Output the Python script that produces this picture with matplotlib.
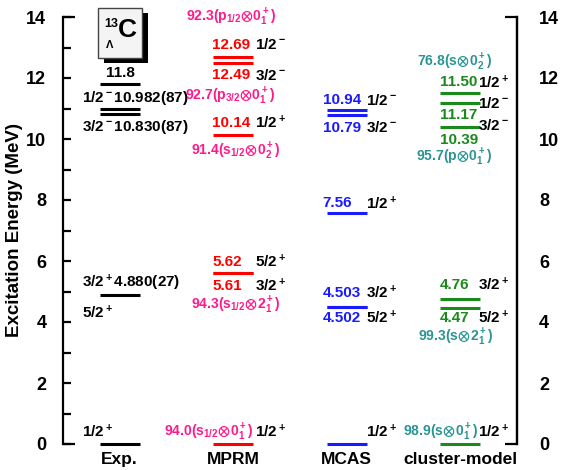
import matplotlib
matplotlib.use("Agg")
import matplotlib.pyplot as plt
from matplotlib.patches import Rectangle
from matplotlib.ticker import MultipleLocator
import matplotlib.transforms as mtransforms

plt.rcParams['font.family'] = ['Liberation Sans', 'DejaVu Sans']
plt.rcParams['font.weight'] = 'bold'
plt.rcParams['mathtext.fontset'] = 'custom'
plt.rcParams['mathtext.rm'] = 'Liberation Sans:bold'
plt.rcParams['mathtext.it'] = 'Liberation Sans:bold'
plt.rcParams['mathtext.bf'] = 'Liberation Sans:bold'
plt.rcParams['mathtext.sf'] = 'Liberation Sans:bold'
plt.rcParams['mathtext.default'] = 'bf'
plt.rcParams['mathtext.fallback'] = 'stixsans'

# ---------------- data ----------------
columns = ["Exp.", "MPRM", "MCAS", "cluster-model"]

exp_energy = [0.0, 4.880, 10.830, 10.982, 11.8]
exp_labels = [r"$1/2^+$", r"$3/2^+$4.880(27)", r"$3/2^-$10.830(87)", r"$1/2^-$10.982(87)", "11.8"]
exp_extra_spin = r"$5/2^+$"

mprm_energy = [0.0, 5.61, 5.62, 10.14, 12.49, 12.69]
mprm_values = ["", "5.61", "5.62", "10.14", "12.49", "12.69"]
mprm_spins = [r"$1/2^+$", r"$3/2^+$", r"$5/2^+$", r"$1/2^+$", r"$3/2^-$", r"$1/2^-$"]
mprm_comp = [r"$94.0(s_{1/2}\!\otimes\!0^+_1)$", r"$94.3(s_{1/2}\!\otimes\!2^+_1)$",
             r"$91.4(s_{1/2}\!\otimes\!0^+_2)$", r"$92.7(p_{3/2}\!\otimes\!0^+_1)$",
             r"$92.3(p_{1/2}\!\otimes\!0^+_1)$"]

mcas_energy = [0.0, 4.502, 4.503, 7.56, 10.79, 10.94]
mcas_values = ["", "4.502", "4.503", "7.56", "10.79", "10.94"]
mcas_spins = [r"$1/2^+$", r"$5/2^+$", r"$3/2^+$", r"$1/2^+$", r"$3/2^-$", r"$1/2^-$"]

cluster_energy = [0.0, 4.47, 4.76, 10.39, 11.17, 11.50]
cluster_values = ["", "4.47", "4.76", "10.39", "11.17", "11.50"]
cluster_spins = [r"$1/2^+$", r"$5/2^+$", r"$3/2^+$", r"$3/2^-$", r"$1/2^-$", r"$1/2^+$"]
cluster_comp = [r"$98.9(s\!\otimes\!0^+_1)$", r"$99.3(s\!\otimes\!2^+_1)$",
                r"$95.7(p\!\otimes\!0^+_1)$", r"$76.8(s\!\otimes\!0^+_2)$"]

# ---------------- style ----------------
C_EXP = 'black'
C_MPRM = '#ff0000'
C_MCAS = '#1a1aff'
C_CL = '#1a8a1a'
C_PINK = '#ff1a8c'
C_TEAL = '#2a9494'

FS_VAL = 11
FS_COMP = 10

fig = plt.figure(figsize=(5.61, 4.70), dpi=100)
W, H = 561, 470
ax = fig.add_axes([63 / W, 1 - 444 / H, (517 - 63) / W, (444 - 17) / H])
ax.set_xlim(-0.5, 3.5)
ax.set_ylim(0, 14)

half = 0.175
lw_lev = 2.2
for i, (en, col) in enumerate([(exp_energy, C_EXP), (mprm_energy, C_MPRM),
                                (mcas_energy, C_MCAS), (cluster_energy, C_CL)]):
    ax.hlines(en, i - half, i + half, colors=col, lw=lw_lev, clip_on=False)


def lab(x, e, s, dx, dy, color='black', ha='left', fs=FS_VAL):
    ax.annotate(s, xy=(x, e), xytext=(dx, dy), textcoords='offset pixels',
                ha=ha, va='center', color=color, fontsize=fs, fontweight='bold',
                annotation_clip=False)


# Exp column
x = 0
exp_layout = [(-38, 12, 'left'), (-38, 12, 'left'), (-38, -13, 'left'), (-38, 11, 'left'), (1, 11, 'center')]
for e, s, (dx, dy, ha) in zip(exp_energy, exp_labels, exp_layout):
    lab(x, e, s, dx, dy, ha=ha)
lab(x, exp_energy[1], exp_extra_spin, -38, -17)

# MPRM column
x = 1
mprm_dy = [12, -13, 11, 12, -12, 12]
for e, v, s, dy in zip(mprm_energy, mprm_values, mprm_spins, mprm_dy):
    if v:
        lab(x, e, v, -21, dy, color=C_MPRM)
    lab(x, e, s, 22, dy)
mprm_comp_layout = [(0, 20, 12, 'right'), (1, 2, -32, 'center'), (3, 2, -17, 'center'),
                    (4, -3, -33, 'center'), (5, -2, 40, 'center')]
for s, (k, dx, dy, ha) in zip(mprm_comp, mprm_comp_layout):
    lab(x, mprm_energy[k], s, dx, dy, color=C_PINK, ha=ha, fs=FS_COMP)

# MCAS column
x = 2
mcas_dy = [12, -11, 14, 10, -13, 10]
for e, v, s, dy in zip(mcas_energy, mcas_values, mcas_spins, mcas_dy):
    if v:
        lab(x, e, v, -24, dy, color=C_MCAS)
    lab(x, e, s, 19, dy)

# cluster-model column
x = 3
cl_val_dy = [12, -10, 14, -13, -12, 11]
cl_spin_dy = [12, -10, 14, 2, 0, 11]
for e, v, s, dv, ds in zip(cluster_energy, cluster_values, cluster_spins, cl_val_dy, cl_spin_dy):
    if v:
        lab(x, e, v, -20, dv, color=C_CL)
    lab(x, e, s, 18, ds)
cl_comp_layout = [(0, 18, 12, 'right'), (1, -5, -30, 'center'), (3, -6, -30, 'center'), (5, -6, 31, 'center')]
for s, (k, dx, dy, ha) in zip(cluster_comp, cl_comp_layout):
    lab(x, cluster_energy[k], s, dx, dy, color=C_TEAL, ha=ha, fs=FS_COMP)

# axes styling
for sp in ['top', 'bottom']:
    ax.spines[sp].set_visible(False)
for sp in ['left', 'right']:
    ax.spines[sp].set_linewidth(1.6)
ax.yaxis.set_major_locator(MultipleLocator(2))
ax.yaxis.set_minor_locator(MultipleLocator(1))
ax.tick_params(axis='y', which='both', direction='in', length=6, width=1.6,
               left=True, right=True, labelleft=True, labelright=False, labelsize=13)
ax.tick_params(axis='y', which='major', pad=12)
for t in ax.get_yticklabels():
    t.set_fontweight('bold')
ax.set_xticks(range(len(columns)))
ax.set_xticklabels(columns, fontsize=12.5, fontweight='bold')
ax.tick_params(axis='x', length=0, pad=6)

# right-hand labels
ax2 = ax.twinx()
ax2.set_ylim(ax.get_ylim())
for sp in ['top', 'bottom', 'left']:
    ax2.spines[sp].set_visible(False)
ax2.spines['right'].set_linewidth(1.6)
ax2.yaxis.set_major_locator(MultipleLocator(2))
ax2.tick_params(axis='y', which='both', length=0, pad=16, labelsize=13)
for t in ax2.get_yticklabels():
    t.set_fontweight('bold')

# bracket ends
tr = mtransforms.blended_transform_factory(ax.transAxes, ax.transData)
end = 12 / 454
for yv in (0, 14):
    ax.plot([0, end], [yv, yv], color='k', lw=1.6, transform=tr, clip_on=False, solid_capstyle='butt')
    ax.plot([1 - end, 1], [yv, yv], color='k', lw=1.6, transform=tr, clip_on=False, solid_capstyle='butt')

fig.text(15 / W, 1 - 230 / H, "Excitation Energy (MeV)", rotation=90, ha='center', va='center',
         fontsize=13.5, fontweight='bold')

# 13C Lambda box
fig.add_artist(Rectangle((104 / W, 1 - 63 / H), 44 / W, 50 / H, transform=fig.transFigure,
                         facecolor='black', edgecolor='black', lw=0))
fig.add_artist(Rectangle((98 / W, 1 - 58 / H), 44 / W, 50 / H, transform=fig.transFigure,
                         facecolor='#f4f4f4', edgecolor='#444444', lw=1))
fig.text(104 / W, 1 - 24 / H, "13", fontsize=9, fontweight='bold', ha='left', va='center')
fig.text(118 / W, 1 - 30 / H, "C", fontsize=19, fontweight='bold', ha='left', va='center')
fig.text(106 / W, 1 - 45 / H, "Λ", fontsize=8, fontweight='bold', ha='left', va='center')

fig.savefig("out.png", dpi=100)
